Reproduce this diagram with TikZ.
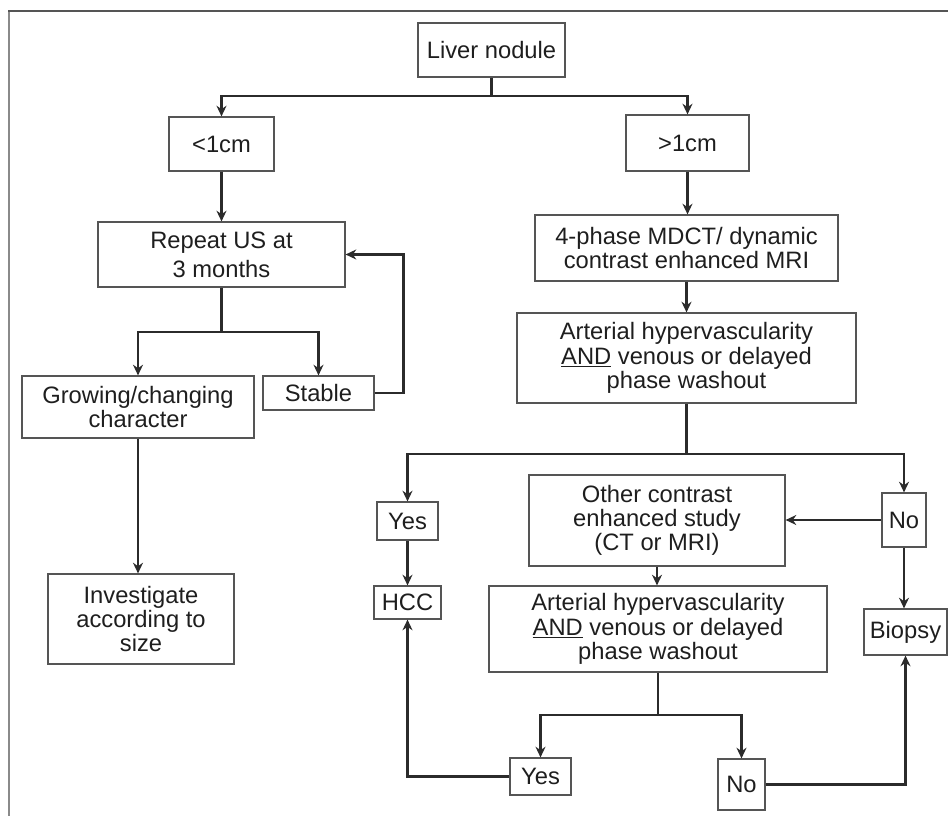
\documentclass[tikz,border=0pt]{standalone}
\usepackage{fontspec}
\setmainfont{Liberation Sans}
\usetikzlibrary{arrows.meta}
\definecolor{boxline}{HTML}{555555}
\definecolor{conn}{HTML}{2B2B2B}
\definecolor{txt}{HTML}{1E1E1E}
\definecolor{frameL}{HTML}{8A8A8A}
\definecolor{frameT}{HTML}{555555}
\begin{document}
\begin{tikzpicture}[x=0.75pt,y=-0.75pt,
  box/.style={draw=boxline,line width=0.9pt,align=center,inner sep=0pt,
    text=txt,font=\fontsize{17.8}{18.2}\selectfont},
  wh/.style 2 args={minimum width=#1*0.75pt,minimum height=#2*0.75pt},
  conn/.style={draw=conn,line width=1.7pt},
  arr/.style={conn,-{Stealth[length=8pt,width=7.5pt]}}]
\useasboundingbox (0,0) rectangle (948,816);
% frame
\draw[frameL,line width=1.6pt] (9,816) -- (9,11);
\draw[frameT,line width=1.6pt] (8.2,11) -- (948,11);
% nodes
\node[box,wh={147}{54}] (liver) at (491.5,50) {Liver nodule};
\node[box,wh={105}{54}] (lt) at (221.5,144) {<1cm};
\node[box,wh={123}{56}] (gt) at (687.5,143) {>1cm};
\node[box,wh={247}{65},font=\fontsize{17.8}{21.5}\selectfont] (repeat) at (221.5,254.5) {Repeat US at\\3 months};
\node[box,wh={303}{66}] (mdct) at (686.5,248) {4-phase MDCT/ dynamic\\contrast enhanced MRI};
\node[box,wh={232}{62}] (growing) at (138,407) {Growing/changing\\character};
\node[box,wh={111}{34}] (stable) at (318.5,393) {Stable};
\node[box,wh={186}{90}] (invest) at (141,619) {Investigate\\according to\\size};
\node[box,wh={339}{90}] (art1) at (686.5,358) {Arterial hypervascularity\\\underline{AND} venous or delayed\\phase washout};
\node[box,wh={61}{38}] (yes1) at (407.5,521) {Yes};
\node[box,wh={67}{33}] (hcc) at (407.5,602.5) {HCC};
\node[box,wh={256}{91}] (other) at (657,520.5) {Other contrast\\enhanced study\\(CT or MRI)};
\node[box,wh={44}{54}] (no1) at (904,520) {No};
\node[box,wh={83}{46}] (biopsy) at (905.5,632) {Biopsy};
\node[box,wh={338}{86}] (art2) at (658,629) {Arterial hypervascularity\\\underline{AND} venous or delayed\\phase washout};
\node[box,wh={61}{37}] (yes2) at (540.5,776.5) {Yes};
\node[box,wh={47}{51}] (no2) at (741.5,784.5) {No};
% branch points
\coordinate (b1) at (491.5,96);
\coordinate (b2) at (221.5,332);
\coordinate (b3) at (686.5,454);
\coordinate (b4) at (658,715);
% connectors
\draw[conn] (liver.south) -- (b1);
\draw[arr] (b1) -| (lt.north);
\draw[arr] (b1) -| (gt.north);
\draw[arr] (lt.south) -- (repeat.north);
\draw[arr] (gt.south) -- (gt.south |- mdct.north);
\draw[conn] (repeat.south) -- (b2);
\draw[arr] (b2) -| (growing.north);
\draw[arr] (b2) -| (stable.north);
\draw[arr] (stable.east) -- ++(29,0) |- (repeat.east);
\draw[arr] (growing.south) -- (growing.south |- invest.north);
\draw[arr] (mdct.south) -- (art1.north);
\draw[conn] (art1.south) -- (b3);
\draw[arr] (b3) -| (yes1.north);
\draw[arr] (b3) -| (no1.north);
\draw[arr] (yes1.south) -- (hcc.north);
\draw[arr] (no1.west) -- (no1.west -| other.east);
\draw[arr] (no1.south) -- (no1.south |- biopsy.north);
\draw[arr] (other.south) -- (other.south |- art2.north);
\draw[conn] (art2.south) -- (b4);
\draw[arr] (b4) -| (yes2.north);
\draw[arr] (b4) -| (no2.north);
\draw[arr] (yes2.west) -| (hcc.south);
\draw[arr] (no2.east) -| (biopsy.south);
\end{tikzpicture}
\end{document}
